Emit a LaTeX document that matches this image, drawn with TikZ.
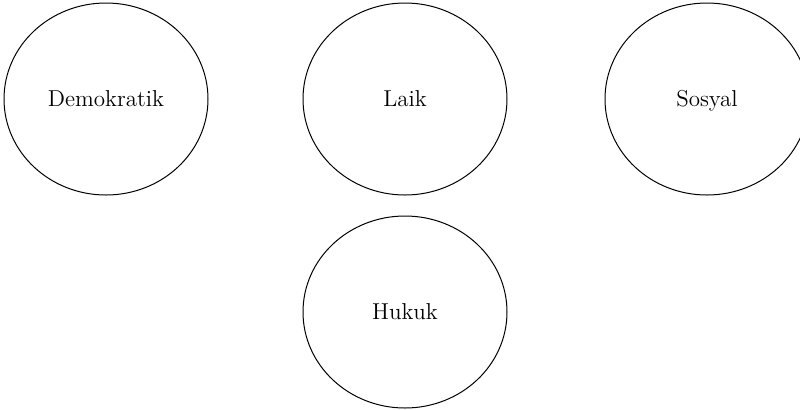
\documentclass[tikz,border=0pt]{standalone}
\usepackage{tikz}
\usetikzlibrary{
    shapes.geometric,
    positioning,
}

\begin{document}
\begin{tikzpicture}[
    node distance= 47pt and 48pt,
    pillar/.style={draw, line width=0.5pt, ellipse, minimum width=102pt, minimum height=96pt,
        text height=2ex, text depth=0.2ex, font=\fontsize{11.5}{14}\selectfont},
]

\useasboundingbox (0,0) rectangle (400pt,-204.5pt);

\node[pillar] (laik) at (202.5pt,-49.5pt) {Laik};
\node[pillar] (demokratik) [left=47pt of laik] {Demokratik};
\node[pillar] (sosyal) [right=48.5pt of laik] {Sosyal};

\node[pillar] (hukuk) [below=10pt of laik] {Hukuk};

\end{tikzpicture}
\end{document}
